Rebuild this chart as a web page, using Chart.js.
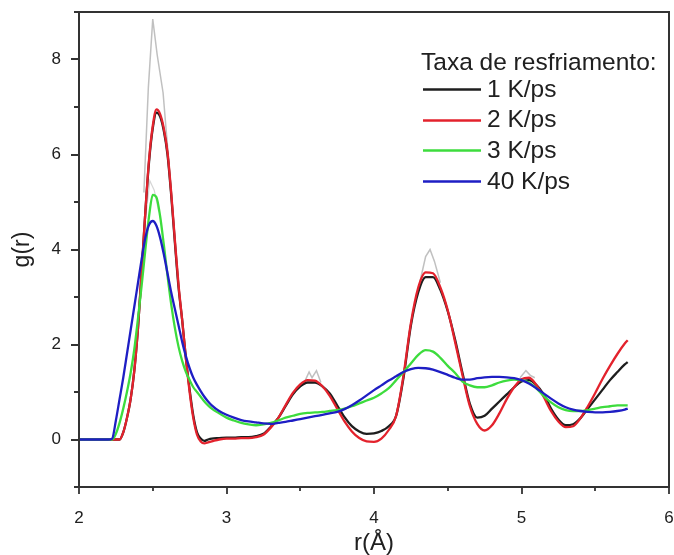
<!DOCTYPE html>
<html>
<head>
<meta charset="utf-8">
<script src="https://cdn.jsdelivr.net/npm/chart.js@4/dist/chart.umd.min.js"></script>
<style>
  html, body { margin: 0; padding: 0; background: #ffffff; }
  #wrap { width: 674px; height: 555px; }
</style>
</head>
<body>
<div id="wrap"><canvas id="gr" width="674" height="555"></canvas></div>
<script>
// Radial distribution function g(r) for several cooling rates

const legendTitle = 'Taxa de resfriamento:';
const seriesLabels = ['1 K/ps', '2 K/ps', '3 K/ps', '40 K/ps'];
const seriesColors = ['#1e1e1e', '#e3222c', '#3ddc3d', '#1e1ec4'];

const xTickLabels = ['2', '3', '4', '5', '6'];
const yTickLabels = ['0', '2', '4', '6', '8'];

// r values (Å), finer spacing across the first coordination peak
const rVals = [
  2.00, 2.10, 2.20,
  2.225, 2.25, 2.275, 2.30, 2.325, 2.35, 2.375, 2.40, 2.425, 2.45, 2.475, 2.50, 2.525,
  2.55, 2.575, 2.60, 2.625, 2.65, 2.675, 2.70, 2.725, 2.75, 2.775, 2.80, 2.825, 2.85, 2.875,
  2.90, 2.95, 3.00, 3.05, 3.10, 3.15, 3.20, 3.25, 3.30, 3.35,
  3.40, 3.45, 3.50, 3.55, 3.60, 3.65, 3.70, 3.75, 3.80, 3.85,
  3.90, 3.95, 4.00, 4.05, 4.10, 4.15, 4.20, 4.25, 4.30, 4.35,
  4.40, 4.45, 4.50, 4.55, 4.60, 4.65, 4.70, 4.75, 4.80, 4.85,
  4.90, 4.95, 5.00, 5.05, 5.10, 5.15, 5.20, 5.25, 5.30, 5.35,
  5.40, 5.45, 5.50, 5.55, 5.60, 5.65, 5.70, 5.72
];

const g1 = [
  0, 0, 0,
  0, 0, 0, 0.15, 0.45, 0.85, 1.45, 2.35, 3.55, 4.8, 5.85, 6.55, 6.88,
  6.8, 6.5, 6.0, 5.15, 4.15, 3.2, 2.5, 1.7, 1.05, 0.5, 0.15, 0.02, -0.03, 0.0,
  0.02, 0.03, 0.04, 0.04, 0.05, 0.05, 0.07, 0.12, 0.27, 0.45,
  0.7, 0.95, 1.12, 1.2, 1.2, 1.12, 0.97, 0.72, 0.47, 0.28,
  0.17, 0.12, 0.13, 0.18, 0.28, 0.5, 1.3, 2.4, 3.1, 3.42,
  3.42, 3.15, 2.7, 2.1, 1.4, 0.75, 0.46, 0.5, 0.65, 0.8,
  0.95, 1.1, 1.22, 1.25, 1.15, 0.95, 0.65, 0.42, 0.3, 0.32,
  0.45, 0.65, 0.85, 1.05, 1.25, 1.42, 1.58, 1.63
];

const g2 = [
  0, 0, 0,
  0, 0, 0, 0.15, 0.45, 0.85, 1.45, 2.35, 3.55, 4.8, 5.9, 6.6, 6.95,
  6.85, 6.55, 6.05, 5.2, 4.2, 3.25, 2.5, 1.7, 1.0, 0.45, 0.1, -0.04, -0.08, -0.06,
  -0.04, 0.0, 0.02, 0.02, 0.03, 0.03, 0.05, 0.1, 0.25, 0.45,
  0.72, 0.98, 1.16, 1.25, 1.24, 1.12, 0.92, 0.65, 0.38, 0.17,
  0.03, -0.04, -0.05, 0.02, 0.2, 0.5, 1.35, 2.45, 3.2, 3.52,
  3.5, 3.2, 2.72, 2.05, 1.35, 0.7, 0.33, 0.19, 0.3, 0.55,
  0.85, 1.1, 1.27, 1.3, 1.15, 0.9, 0.6, 0.38, 0.26, 0.28,
  0.45, 0.7, 0.98, 1.28, 1.55, 1.8, 2.02, 2.09
];

const g3 = [
  0, 0, 0,
  0, 0.12, 0.35, 0.65, 1.0, 1.4, 1.9, 2.55, 3.25, 4.0, 4.7, 5.15, 5.1,
  4.7, 4.1, 3.45, 2.85, 2.35, 1.95, 1.65, 1.42, 1.25, 1.1, 1.0, 0.9, 0.8, 0.72,
  0.65, 0.55, 0.46, 0.4, 0.35, 0.32, 0.3, 0.32, 0.35, 0.4,
  0.46, 0.5, 0.54, 0.56, 0.57, 0.58, 0.6, 0.62, 0.65, 0.7,
  0.76, 0.82, 0.88, 0.97, 1.08, 1.25, 1.42, 1.6, 1.78, 1.88,
  1.85, 1.72, 1.55, 1.4, 1.22, 1.14, 1.1, 1.1, 1.14, 1.2,
  1.24, 1.26, 1.25, 1.2, 1.08, 0.92, 0.78, 0.68, 0.62, 0.6,
  0.6, 0.62, 0.65, 0.68, 0.7, 0.72, 0.72, 0.72
];

const g40 = [
  0, 0, 0,
  0.02, 0.4, 0.85, 1.3, 1.8, 2.3, 2.8, 3.3, 3.8, 4.25, 4.52, 4.6, 4.5,
  4.25, 3.9, 3.5, 3.1, 2.75, 2.4, 2.05, 1.75, 1.5, 1.3, 1.15, 1.02, 0.9, 0.8,
  0.72, 0.6, 0.52, 0.46, 0.41, 0.38, 0.36, 0.34, 0.33, 0.35,
  0.37, 0.4, 0.43, 0.46, 0.49, 0.52, 0.55, 0.58, 0.64, 0.72,
  0.82, 0.93, 1.04, 1.14, 1.24, 1.33, 1.42, 1.48, 1.51, 1.5,
  1.47, 1.42, 1.36, 1.3, 1.26, 1.26, 1.29, 1.31, 1.32, 1.32,
  1.31, 1.29, 1.25, 1.18, 1.08, 0.97, 0.86, 0.76, 0.68, 0.63,
  0.6, 0.58, 0.57, 0.57, 0.58, 0.6, 0.63, 0.65
];

// unsmoothed (raw) g(r) spikes around the peaks, gaps separate the pieces
const rawR = [2.44, 2.47, 2.50, 2.53, 2.57, 2.61, 2.62,
              3.52, 3.56, 3.58, 3.61, 3.64, 3.65,
              4.31, 4.35, 4.38, 4.41, 4.45, 4.46,
              4.99, 5.03, 5.06, 5.09];
const rawG = [5.2, 7.4, 8.85, 8.1, 7.3, 5.8, null,
              1.15, 1.42, 1.3, 1.45, 1.2, null,
              3.3, 3.85, 4.0, 3.75, 3.3, null,
              1.3, 1.45, 1.35, 1.3];
const raw3R = [2.45, 2.48, 2.51, 2.54];
const raw3G = [4.6, 5.45, 5.25, 4.8];

const toPoints = (xs, ys) => xs.map((x, i) => ({ x: x, y: ys[i] }));

const seriesValues = [g1, g2, g3, g40];
const drawOrder = [3, 2, 1, 0];

const datasets = seriesValues.map((vals, i) => ({
  label: seriesLabels[i],
  data: toPoints(rVals, vals),
  borderColor: seriesColors[i],
  borderWidth: 2.3,
  pointRadius: 0,
  cubicInterpolationMode: 'monotone',
  order: drawOrder[i],
  inLegend: true
}));

datasets.push({
  label: 'raw',
  data: toPoints(rawR, rawG),
  borderColor: 'rgba(165,165,165,0.7)',
  borderWidth: 1.5,
  pointRadius: 0,
  tension: 0,
  spanGaps: false,
  order: 10
});
datasets.push({
  label: 'raw 3',
  data: toPoints(raw3R, raw3G),
  borderColor: 'rgba(185,185,185,0.6)',
  borderWidth: 1.2,
  pointRadius: 0,
  tension: 0,
  order: 11
});

const FONT = '"Liberation Sans", Arial, Helvetica, sans-serif';
const INK = '#202020';

const isWhole = v => Math.abs(v - Math.round(v)) < 1e-6;

// box around the plot plus major/minor tick marks
const frameAndTicks = {
  id: 'frameAndTicks',
  afterDatasetsDraw(chart) {
    const { ctx, chartArea: a, scales: { x, y } } = chart;
    ctx.save();
    ctx.strokeStyle = '#333333';
    ctx.lineWidth = 2;
    ctx.strokeRect(a.left, a.top, a.right - a.left, a.bottom - a.top);
    ctx.lineWidth = 1.8;
    ctx.beginPath();
    x.ticks.forEach(t => {
      const px = Math.round(x.getPixelForValue(t.value));
      const len = isWhole(t.value) ? 7 : 4;
      ctx.moveTo(px, a.bottom);
      ctx.lineTo(px, a.bottom + len);
    });
    y.ticks.forEach(t => {
      const py = Math.round(y.getPixelForValue(t.value));
      const len = (isWhole(t.value / 2)) ? 8 : 5;
      ctx.moveTo(a.left, py);
      ctx.lineTo(a.left - len, py);
    });
    ctx.stroke();
    ctx.restore();
  }
};

// legend block inside the plot area
const insideLegend = {
  id: 'insideLegend',
  afterDraw(chart) {
    const { ctx } = chart;
    const items = chart.data.datasets.filter(d => d.inLegend);
    ctx.save();
    ctx.font = '24.5px ' + FONT;
    ctx.fillStyle = INK;
    ctx.textBaseline = 'middle';
    ctx.textAlign = 'left';
    ctx.fillText(legendTitle, 421, 63);
    items.forEach((d, i) => {
      const yy = 89 + i * 30.7;
      ctx.strokeStyle = d.borderColor;
      ctx.lineWidth = 2.3;
      ctx.beginPath();
      ctx.moveTo(423, Math.round(yy) + 0.5);
      ctx.lineTo(481, Math.round(yy) + 0.5);
      ctx.stroke();
      ctx.fillStyle = INK;
      ctx.fillText(d.label, 487, yy + 1);
    });
    ctx.restore();
  }
};

new Chart(document.getElementById('gr'), {
  type: 'line',
  data: { datasets: datasets },
  options: {
    responsive: false,
    animation: false,
    events: [],
    layout: { padding: { top: 12, right: 5, left: 0, bottom: 0 } },
    plugins: {
      legend: { display: false },
      tooltip: { enabled: false }
    },
    scales: {
      x: {
        type: 'linear',
        min: 2,
        max: 6,
        afterFit(scale) {
          scale.height = 68;
          scale.paddingLeft = 0;
          scale.paddingRight = 0;
        },
        grid: { display: false },
        border: { display: false },
        ticks: {
          stepSize: 0.5,
          autoSkip: false,
          maxRotation: 0,
          padding: 13,
          color: INK,
          font: { family: FONT, size: 17 },
          callback: v => isWhole(v) ? xTickLabels[Math.round(v) - 2] : ''
        },
        title: {
          display: true,
          text: 'r(Å)',
          color: INK,
          font: { family: FONT, size: 24 },
          padding: { top: 0, bottom: -3 }
        }
      },
      y: {
        type: 'linear',
        min: -1,
        max: 9,
        afterFit(scale) {
          scale.width = 79;
          scale.paddingTop = 0;
          scale.paddingBottom = 0;
        },
        grid: { display: false },
        border: { display: false },
        ticks: {
          stepSize: 1,
          autoSkip: false,
          padding: 10,
          color: INK,
          font: { family: FONT, size: 17 },
          callback: v => (v >= 0 && v <= 8 && isWhole(v / 2)) ? yTickLabels[Math.round(v / 2)] : ''
        },
        title: {
          display: true,
          text: 'g(r)',
          color: INK,
          font: { family: FONT, size: 23 },
          padding: { top: 9, bottom: 0 }
        }
      }
    }
  },
  plugins: [frameAndTicks, insideLegend]
});
</script>
</body>
</html>
